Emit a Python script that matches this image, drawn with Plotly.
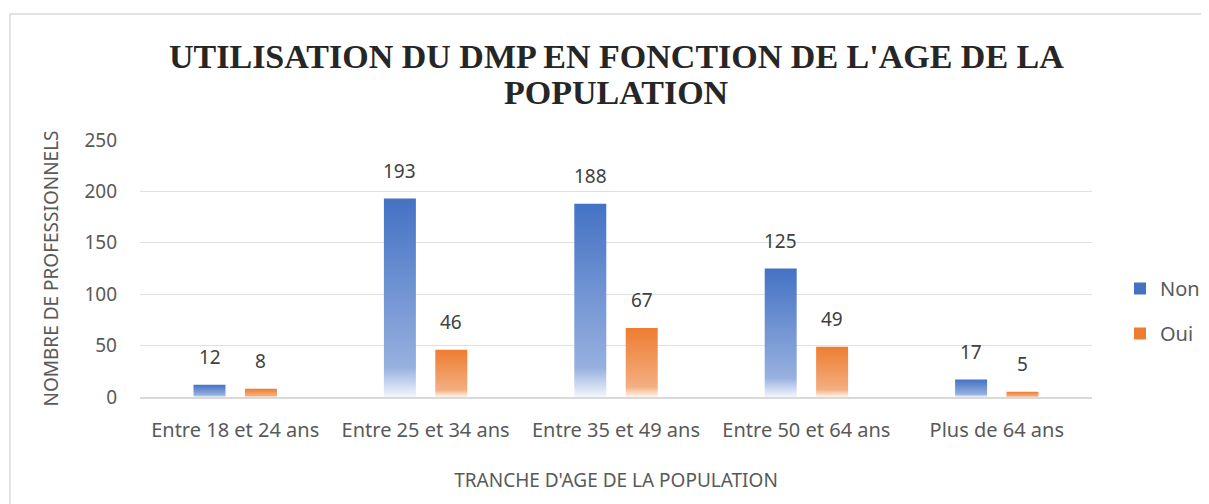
import plotly.graph_objects as go

categories = ["Entre 18 et 24 ans", "Entre 25 et 34 ans", "Entre 35 et 49 ans",
              "Entre 50 et 64 ans", "Plus de 64 ans"]
non_values = [12, 193, 188, 125, 17]
oui_values = [8, 46, 67, 49, 5]
series_names = ["Non", "Oui"]
y_ticks = [0, 50, 100, 150, 200, 250]
title_lines = ["UTILISATION DU DMP EN FONCTION DE L'AGE DE LA", "POPULATION"]

# page body has an 8px margin -> figure drawn at (8, 8)
W, H = 1201, 496
ML, MR, MT, MB = 132, 117, 132, 107
PW, PH = W - ML - MR, H - MT - MB


def py(p):  # figure pixel (from top) -> paper y
    return (H - MB - p) / PH


def px(p):  # figure pixel (from left) -> paper x
    return (p - ML) / PW


bar_w = 0.168
offset = 0.135
BLUE, ORANGE = "#4472C4", "#ED7D31"
series = [
    (series_names[0], non_values, -offset, BLUE,
     [[0, "#F3F6FC"], [0.15, "#97B0DF"], [1, BLUE]]),
    (series_names[1], oui_values, offset, ORANGE,
     [[0, "#FDF4EE"], [0.15, "#F3AE80"], [1, ORANGE]]),
]

fig = go.Figure()
for name, vals, off, col, cs in series:
    for i, v in enumerate(vals):
        xc = i + off
        fig.add_trace(go.Scatter(
            x=[xc - bar_w / 2, xc + bar_w / 2, xc + bar_w / 2, xc - bar_w / 2, xc - bar_w / 2],
            y=[0, 0, v, v, 0],
            mode="lines", line=dict(width=0, color=col),
            fill="toself",
            fillgradient=dict(type="vertical", colorscale=cs, start=0, stop=v),
            name=name, legendgroup=name, showlegend=False,
            hoverinfo="skip",
        ))
        fig.add_annotation(x=xc, y=v, text=str(v), showarrow=False,
                           yanchor="bottom", yshift=13,
                           font=dict(family="Noto Sans", size=19, color="#404040"))
    # legend entry
    fig.add_trace(go.Bar(x=[None], y=[None], name=name, legendgroup=name,
                         marker=dict(color=col, line=dict(width=0)), showlegend=True))

fig.add_shape(type="rect", xref="paper", yref="paper",
              x0=px(2), x1=px(W + 20),
              y0=py(H + 20), y1=py(6),
              line=dict(color="#D9D9D9", width=1.5), layer="below")

for txt, cy in zip(title_lines, [48, 84]):
    fig.add_annotation(xref="paper", yref="paper", x=0.5, y=py(cy),
                       xanchor="center", yanchor="middle", showarrow=False,
                       text="<b>" + txt + "</b>",
                       font=dict(family="Liberation Serif", size=34, color="#262626"))

fig.update_layout(
    width=W, height=H,
    margin=dict(l=ML, r=MR, t=MT, b=MB, autoexpand=False),
    paper_bgcolor="white", plot_bgcolor="white",
    barmode="group",
    xaxis=dict(range=[-0.5, 4.5], tickvals=list(range(len(categories))),
               ticktext=categories, showgrid=False, zeroline=False,
               showline=True, linecolor="#D9D9D9", linewidth=1.5,
               tickfont=dict(family="Noto Sans", size=20, color="#595959"),
               ticks="", ticklabelstandoff=14, automargin=False,
               title=dict(text="TRANCHE D'AGE DE LA POPULATION", standoff=32,
                          font=dict(family="Noto Sans", size=19, color="#595959"))),
    yaxis=dict(range=[0, 250], tickvals=y_ticks, showgrid=True, gridcolor="#E0E0E0",
               gridwidth=1.2, zeroline=False,
               tickfont=dict(family="Noto Sans", size=19, color="#595959"),
               ticks="", ticklabelstandoff=22, automargin=False,
               title=dict(text="NOMBRE DE PROFESSIONNELS", standoff=20,
                          font=dict(family="Noto Sans", size=19, color="#595959"))),
    legend=dict(x=px(1112), y=py(303), xanchor="left", yanchor="middle",
                font=dict(family="Noto Sans", size=20, color="#595959"),
                tracegroupgap=16, itemwidth=30),
    showlegend=True,
)

fig.write_html("out.html")
